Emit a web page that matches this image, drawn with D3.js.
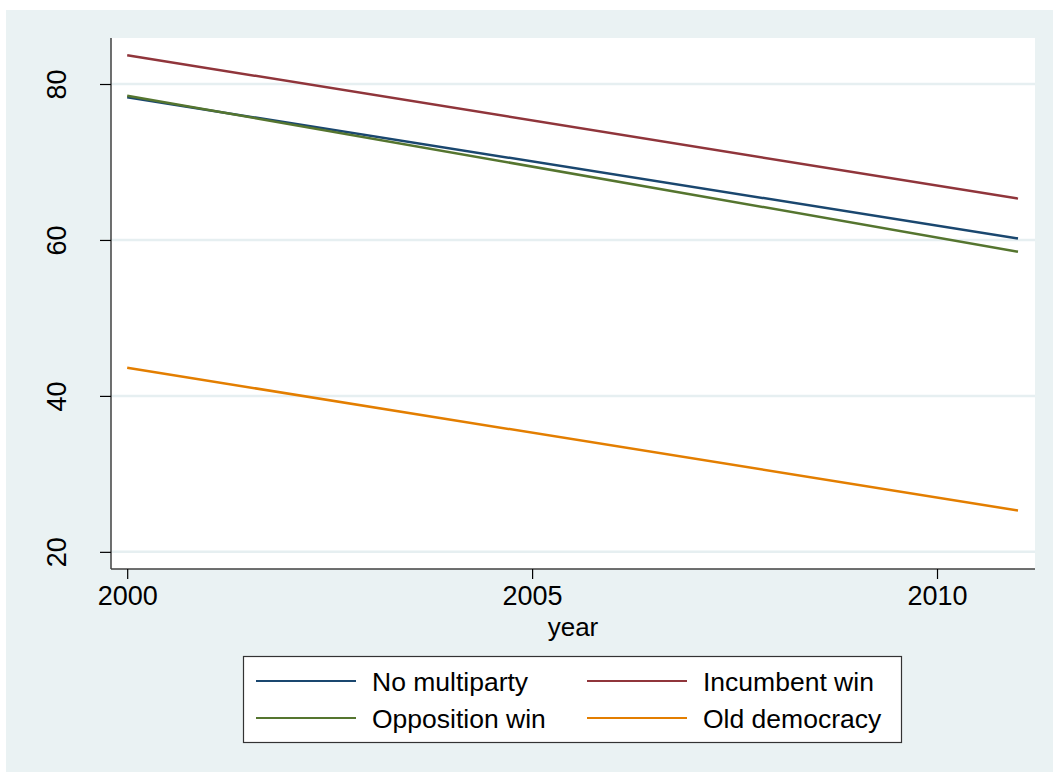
<!DOCTYPE html>
<html>
<head>
<meta charset="utf-8">
<script src="https://cdn.jsdelivr.net/npm/d3@7"></script>
<style>
  body { margin: 0; background: #ffffff; }
  text { font-family: "Liberation Sans", Arial, sans-serif; fill: #000; }
</style>
</head>
<body>
<div id="chart-area"></div>
<script>
// DATA
// ****
let years = [2000, 2011]
let seriesNames = ["No multiparty", "Incumbent win", "Opposition win", "Old democracy"]
let noMultiparty = [78.3, 60.2]
let incumbentWin = [83.7, 65.3]
let oppositionWin = [78.5, 58.5]
let oldDemocracy = [43.6, 25.3]
let yTicks = [20, 40, 60, 80]
let xTicks = [2000, 2005, 2010]
let colors = ["#1a476f", "#90353b", "#55752f", "#e37e00"]

let seriesValues = [noMultiparty, incumbentWin, oppositionWin, oldDemocracy]
let series = seriesNames.map((name, i) => ({
  name: name,
  color: colors[i],
  points: years.map((yr, j) => ({year: yr, value: seriesValues[i][j]}))
}))

// CANVAS
// ******
let width = 1053
let height = 772
let margin = {top: 38, right: 18, bottom: 203, left: 111}
let innerW = width - margin.left - margin.right
let innerH = height - margin.top - margin.bottom

let svg = d3.select("#chart-area")
  .append("svg")
    .attr("width", width)
    .attr("height", height)

svg.append("rect")
  .attr("x", 6).attr("y", 10)
  .attr("width", width - 6).attr("height", height - 10)
  .attr("fill", "#eaf2f3")

let g = svg.append("g")
  .attr("transform", "translate(" + margin.left + ", " + margin.top + ")")

g.append("rect")
  .attr("width", innerW)
  .attr("height", innerH)
  .attr("fill", "#ffffff")

// SCALES
// ******
let x = d3.scaleLinear().domain([1999.8, 2011.21]).range([0, innerW])
let y = d3.scaleLinear().domain([17.8, 85.9]).range([innerH, 0])

// GRID
g.selectAll(".grid")
  .data(yTicks)
  .enter()
  .append("line")
    .attr("class", "grid")
    .attr("x1", 0)
    .attr("x2", innerW)
    .attr("y1", d => y(d))
    .attr("y2", d => y(d))
    .attr("stroke", "#e6eff1")
    .attr("stroke-width", 2.5)

// LINES
let line = d3.line().x(d => x(d.year)).y(d => y(d.value))
g.selectAll(".series")
  .data(series)
  .enter()
  .append("path")
    .attr("class", "series")
    .attr("d", d => line(d.points))
    .attr("fill", "none")
    .attr("stroke", d => d.color)
    .attr("stroke-width", 2.5)

// AXES
// ****
let leftAxis = d3.axisLeft(y).tickValues(yTicks).tickSize(11).tickSizeOuter(0)
let yAxisG = g.append("g")
  .attr("class", "left axis")
  .call(leftAxis)
yAxisG.select(".domain").attr("stroke", "#404040").attr("stroke-width", 1.5)
  .attr("d", "M0," + innerH + "V0")
yAxisG.selectAll(".tick line").attr("stroke", "#000").attr("stroke-width", 1.2)
yAxisG.selectAll(".tick text")
  .attr("font-size", "27px")
  .attr("font-family", "Liberation Sans, Arial, sans-serif")
  .attr("text-anchor", "middle")
  .attr("x", 0)
  .attr("y", 0)
  .attr("dy", "0")
  .attr("transform", "translate(-45, 0) rotate(-90)")

let bottomAxis = d3.axisBottom(x).tickValues(xTicks).tickFormat(d3.format("d")).tickSize(10).tickPadding(7).tickSizeOuter(0)
let xAxisG = g.append("g")
  .attr("class", "bottom axis")
  .attr("transform", "translate(0, " + innerH + ")")
  .call(bottomAxis)
xAxisG.select(".domain").attr("stroke", "#404040").attr("stroke-width", 1.5)
  .attr("d", "M0,0H" + innerW)
xAxisG.selectAll(".tick line").attr("stroke", "#000").attr("stroke-width", 1.2)
xAxisG.selectAll(".tick text")
  .attr("font-size", "27px")
  .attr("font-family", "Liberation Sans, Arial, sans-serif")

// X label
svg.append("text")
  .attr("x", 573)
  .attr("y", 636)
  .attr("font-size", "26px")
  .attr("text-anchor", "middle")
  .text("year")

// LEGEND
// ******
let legend = svg.append("g").attr("class", "legend")
legend.append("rect")
  .attr("x", 243.5).attr("y", 656.5)
  .attr("width", 658).attr("height", 86)
  .attr("fill", "#ffffff")
  .attr("stroke", "#333333")
  .attr("stroke-width", 1.2)

let legendItems = legend.selectAll(".item")
  .data(series)
  .enter()
  .append("g")
    .attr("class", "item")
    .attr("transform", (d, i) => "translate(" + (i % 2 === 0 ? 256 : 587) + ", " + (i < 2 ? 681 : 718) + ")")

legendItems.append("line")
  .attr("x1", 0).attr("x2", 100)
  .attr("y1", 0).attr("y2", 0)
  .attr("stroke", d => d.color)
  .attr("stroke-width", 2)

legendItems.append("text")
  .attr("x", 116)
  .attr("y", 9.5)
  .attr("font-size", "26.5px")
  .text(d => d.name)
</script>
</body>
</html>
